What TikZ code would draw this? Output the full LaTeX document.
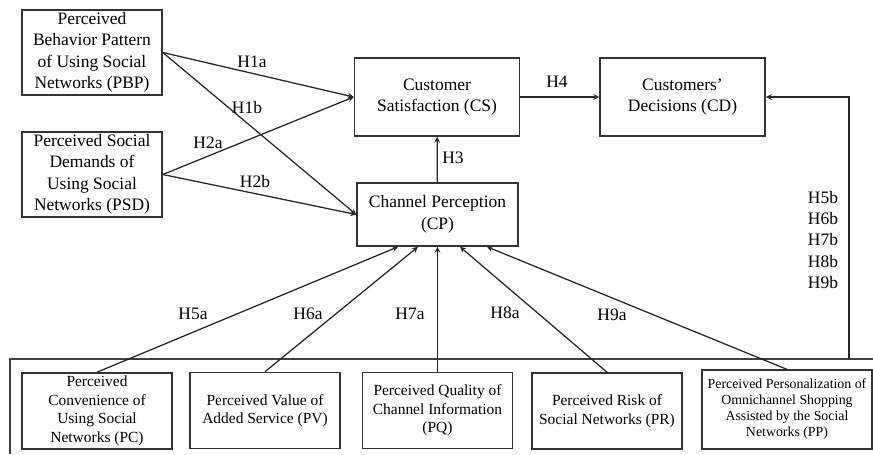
\documentclass[tikz,border=0pt]{standalone}
\usepackage{fontspec}
\setmainfont{Liberation Serif}
\usepackage{tikz}
\usetikzlibrary{arrows,shapes,positioning,calc}

\begin{document}
\begin{tikzpicture}[
    x=0.75pt, y=-0.75pt,
    font=\fontsize{13.1}{16.1}\selectfont, >=stealth,
    box/.style={rectangle, draw=black!80, line width=1.2pt, align=center, inner sep=2pt},
    leftbox/.style={box, minimum width=105pt, minimum height=63.75pt},
    midbox/.style={box, minimum width=123.75pt, minimum height=58.5pt},
    lowbox/.style={box, minimum width=112.5pt, minimum height=57pt, font=\fontsize{11.6}{13.9}\selectfont},
    hyp/.style={inner sep=0pt},
    link/.style={->, line width=0.95pt, black!85}
]
    \useasboundingbox (0,0) rectangle (873,454);

    % social network drivers
    \node[leftbox] (pbp) at (92,52.5) {Perceived\\Behavior Pattern\\of Using Social\\Networks (PBP)};
    \node[leftbox] (psd) at (92,174.5) {Perceived Social\\Demands of\\Using Social\\Networks (PSD)};

    % satisfaction, perception and decisions
    \node[midbox] (cs) at (437,97) {Customer\\Satisfaction (CS)};
    \node[midbox] (cd) at (682.5,97) {Customers'\\Decisions (CD)};
    \node[box, minimum width=120.75pt, minimum height=47.25pt] (cp) at (437.5,214.5) {Channel Perception\\(CP)};

    % channel factors along the bottom
    \node[lowbox] (pc) at (97,411) {Perceived\\Convenience of\\Using Social\\Networks (PC)};
    \node[lowbox] (pv) at (265,410.5) {Perceived Value of\\Added Service (PV)};
    \node[lowbox] (pq) at (437.5,410.5) {Perceived Quality of\\Channel Information\\(PQ)};
    \node[lowbox] (pr) at (607,411) {Perceived Risk of\\Social Networks (PR)};
    \node[lowbox, minimum width=127.5pt, minimum height=59pt, font=\fontsize{10.4}{12}\selectfont] (pp) at (787,409.5)
        {Perceived Personalization of\\Omnichannel Shopping\\Assisted by the Social\\Networks (PP)};

    % frame round the channel factors
    \coordinate (fl) at (10,454);
    \coordinate (ft) at (10,359);
    \coordinate (fr) at (873,359);
    \coordinate (fb) at (849,359);
    \draw[line width=1.2pt, black!75] (fl) -- (ft) -- (fr);

    % hypotheses
    \draw[link] (pbp.east) -- (cs.west);
    \draw[link] (pbp.east) -- (cp.west);
    \draw[link] (psd.east) -- (cs.west);
    \draw[link] (psd.east) -- (cp.west);
    \draw[link] (cp) -- (cs);
    \draw[link] (cs) -- (cd);
    \draw[link] (fb) |- (cd.east);
    \draw[link] (pc.north) -- ($(cp.south)+(-39.5,0)$);
    \draw[link] (pv.north) -- ($(cp.south)+(-19.5,0)$);
    \draw[link] (pq.north) -- (cp.south);
    \draw[link] (pr.north) -- ($(cp.south)+(22.5,0)$);
    \draw[link] (pp.north) -- ($(cp.south)+(49.5,0)$);

    \node[hyp] (h1a) at (252,62) {H1a};
    \node[hyp] (h1b) at (247,108) {H1b};
    \node[hyp] (h2a) at (208,143) {H2a};
    \node[hyp] (h2b) at (255,182) {H2b};
    \node[hyp] (h3) at (453,158) {H3};
    \node[hyp] (h4) at (557,82) {H4};
    \node[hyp, align=center] (h5b) at (823,240) {H5b\\H6b\\H7b\\H8b\\H9b};
    \node[hyp] (h5a) at (193,314) {H5a};
    \node[hyp] (h6a) at (308,314) {H6a};
    \node[hyp] (h7a) at (410,314) {H7a};
    \node[hyp] (h8a) at (505,313) {H8a};
    \node[hyp] (h9a) at (612,315) {H9a};
\end{tikzpicture}
\end{document}
